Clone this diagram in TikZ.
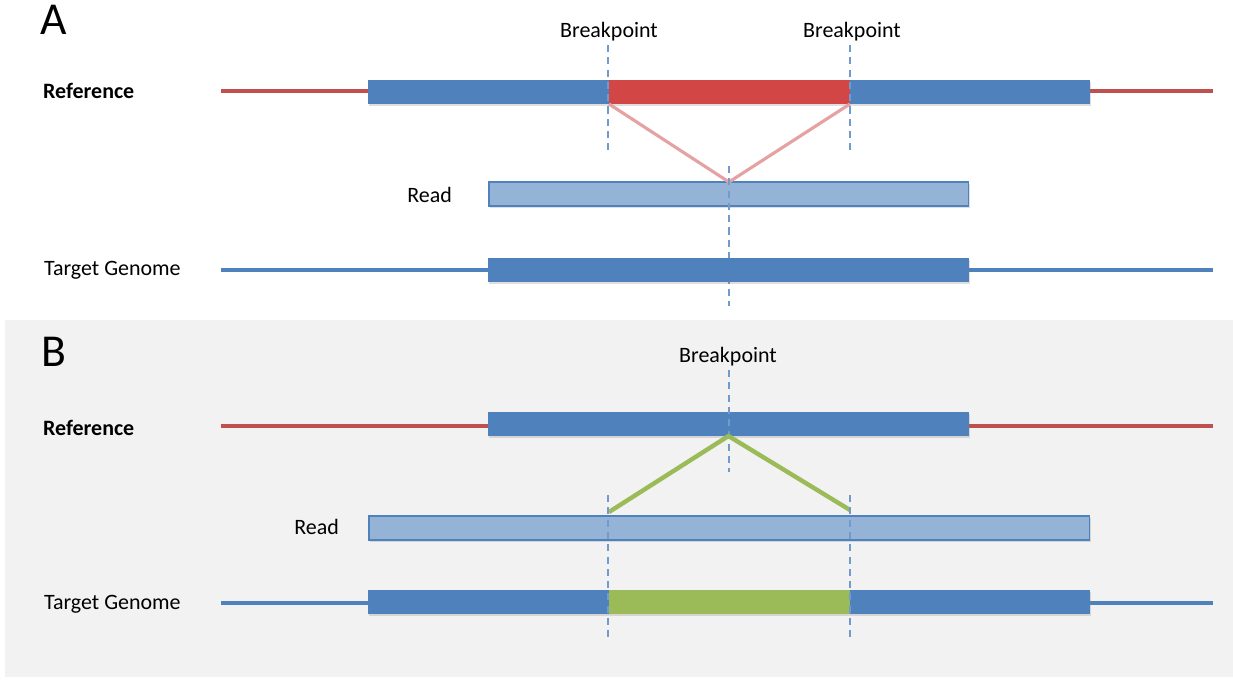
\documentclass[tikz,border=0pt]{standalone}
\usepackage{fontspec}
\setmainfont{Carlito}
\usetikzlibrary{positioning,shadows}
\definecolor{barblue}{HTML}{4F81BD}
\definecolor{readblue}{HTML}{95B3D7}
\definecolor{barred}{HTML}{D24646}
\definecolor{linered}{HTML}{C0504D}
\definecolor{pinkline}{HTML}{E4A3A2}
\definecolor{bargreen}{HTML}{9BBB59}
\definecolor{panelgrey}{HTML}{F2F2F2}
\tikzset{
  bar/.style={inner sep=0pt,outer sep=0pt,minimum height=0.48cm,anchor=west,
    drop shadow={shadow xshift=0.5pt,shadow yshift=-1pt,opacity=0.25}},
  bluebar/.style={bar,fill=barblue},
  redbar/.style={bar,fill=barred},
  greenbar/.style={bar,fill=bargreen},
  readbar/.style={bar,fill=readblue,draw=barblue,line width=0.6pt},
  bpline/.style={barblue!80,dashed,dash pattern=on 4pt off 3pt,line width=0.6pt},
  lbl/.style={inner sep=1pt,font=\fontsize{12.5}{14}\selectfont},
  panel/.style={inner sep=0pt,font=\fontsize{26}{29}\selectfont}
}
\begin{document}
\begin{tikzpicture}[x=0.02cm,y=-0.02cm]
    \useasboundingbox (0,0) rectangle (1233,679);
    \fill[panelgrey] (5,320) rectangle (1233,677);
    %% panel A
    \node[panel] (pA) at (54,20) {A};
    \node[lbl,anchor=west,font=\bfseries\fontsize{12.5}{14}\selectfont] (refAtxt) at (41,91) {Reference};
    \draw[linered,line width=1.8pt] (221,91) -- (1213,91);
    \node[bluebar,minimum width=4.82cm] (refA1) at (368,92) {};
    \node[redbar,minimum width=4.82cm,right=0pt of refA1] (refA2) {};
    \node[bluebar,minimum width=4.8cm,right=0pt of refA2] (refA3) {};
    \node[lbl] (bpA1) at (609,32) {Breakpoint};
    \node[lbl] (bpA2) at (852,32) {Breakpoint};
    \draw[bpline] (608,45) -- (608,150);
    \draw[bpline] (850,45) -- (850,150);
    \node[readbar,minimum width=9.6cm] (readA) at (489,194) {};
    \node[lbl,anchor=east] (readAtxt) at (454,195) {Read};
    \draw[pinkline,line width=1.8pt] (refA2.south west) -- (readA.north) -- (refA2.south east);
    \draw[bpline] (729,166) -- (729,306);
    \node[lbl,anchor=west] (tgtAtxt) at (42,270) {Target Genome};
    \draw[barblue,line width=1.8pt] (221,270) -- (1213,270);
    \node[bluebar,minimum width=9.62cm] (tgtA) at (488,270) {};
    %% panel B
    \node[panel] (pB) at (54,352) {B};
    \node[lbl] (bpB) at (728,357) {Breakpoint};
    \node[lbl,anchor=west,font=\bfseries\fontsize{12.5}{14}\selectfont] (refBtxt) at (41,428) {Reference};
    \draw[linered,line width=1.8pt] (221,426) -- (1213,426);
    \node[bluebar,minimum width=9.62cm] (refB) at (488,424) {};
    \draw[bpline] (729,370) -- (729,472);
    \node[readbar,minimum width=14.42cm] (readB) at (369,528) {};
    \node[lbl,anchor=east] (readBtxt) at (341,527) {Read};
    \coordinate (gB1) at (609,512);
    \coordinate (gB2) at (850,510);
    \draw[bargreen,line width=2.5pt] (gB1) -- (refB.south) -- (gB2);
    \node[lbl,anchor=west] (tgtBtxt) at (42,604) {Target Genome};
    \draw[barblue,line width=1.8pt] (221,603) -- (1213,603);
    \node[bluebar,minimum width=4.82cm] (tgtB1) at (368,602) {};
    \node[greenbar,minimum width=4.82cm,right=0pt of tgtB1] (tgtB2) {};
    \node[bluebar,minimum width=4.8cm,right=0pt of tgtB2] (tgtB3) {};
    \draw[bpline] (608,495) -- (608,640);
    \draw[bpline] (850,495) -- (850,640);
\end{tikzpicture}
\end{document}
